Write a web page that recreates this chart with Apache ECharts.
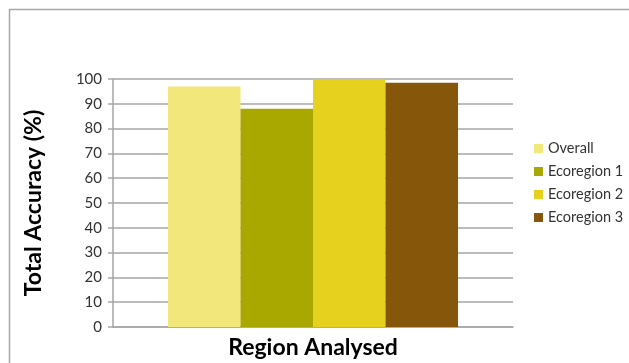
<!DOCTYPE html>
<html>
<head>
<meta charset="utf-8">
<script src="https://cdn.jsdelivr.net/npm/echarts@6/dist/echarts.min.js"></script>
<style>
  html, body { margin: 0; padding: 0; background: #fff; }
  #chart { width: 629px; height: 363px; }
</style>
</head>
<body>
<div id="chart"></div>
<script>
// one category, four series
let categories = ['Region'];
let seriesNames = ['Overall', 'Ecoregion 1', 'Ecoregion 2', 'Ecoregion 3'];
let accuracy = [97, 88, 99.8, 98.5];
let colors = ['#f2e77a', '#a9a800', '#e6d21e', '#86570a'];

let FONT = 'Lato, "Open Sans", sans-serif';

let chart = echarts.init(document.getElementById('chart'));

let series = seriesNames.map(function (name, i) {
    return {
        name: name,
        type: 'bar',
        data: [accuracy[i]],
        barGap: '0%',
        barCategoryGap: '27.5%',
        itemStyle: { color: colors[i] },
    };
});

chart.setOption({
    animation: false,
    textStyle: { fontFamily: FONT },
    graphic: [
        {
            type: 'rect',
            shape: { x: 9.5, y: 9.5, width: 700, height: 500 },
            style: { fill: 'none', stroke: '#a6a6a6', lineWidth: 1.5 },
            silent: true,
        },
    ],
    grid: {
        left: 113,
        right: 116,
        top: 79,
        bottom: 36,
        outerBoundsMode: 'none',
        containLabel: false,
    },
    legend: {
        orient: 'vertical',
        left: 529,
        top: 136,
        itemWidth: 9,
        itemHeight: 9,
        itemGap: 8,
        icon: 'rect',
        textStyle: { fontFamily: FONT, fontSize: 14.5, color: '#333' },
        data: seriesNames,
    },
    xAxis: {
        type: 'category',
        data: categories,
        name: 'Region Analysed',
        nameLocation: 'middle',
        nameGap: 9,
        nameTextStyle: {
            fontFamily: FONT, fontSize: 23, fontWeight: 'bold', color: '#000',
            verticalAlign: 'top',
        },
        axisLine: { lineStyle: { color: '#a6a6a6', width: 1.5 } },
        axisTick: { show: false },
        axisLabel: { show: false },
    },
    yAxis: {
        type: 'value',
        min: 0,
        max: 100,
        interval: 10,
        name: 'Total Accuracy (%)',
        nameLocation: 'middle',
        nameGap: 68,
        nameTextStyle: { fontFamily: FONT, fontSize: 23, fontWeight: 'bold', color: '#000' },
        axisLine: { show: true, lineStyle: { color: '#a6a6a6', width: 1.5 } },
        axisTick: { show: true, length: 5, lineStyle: { color: '#a6a6a6', width: 1.5 } },
        axisLabel: { fontFamily: FONT, fontSize: 15, color: '#333', margin: 11 },
        splitLine: { lineStyle: { color: '#a6a6a6', width: 1.5 } },
    },
    series: series,
});
</script>
</body>
</html>
